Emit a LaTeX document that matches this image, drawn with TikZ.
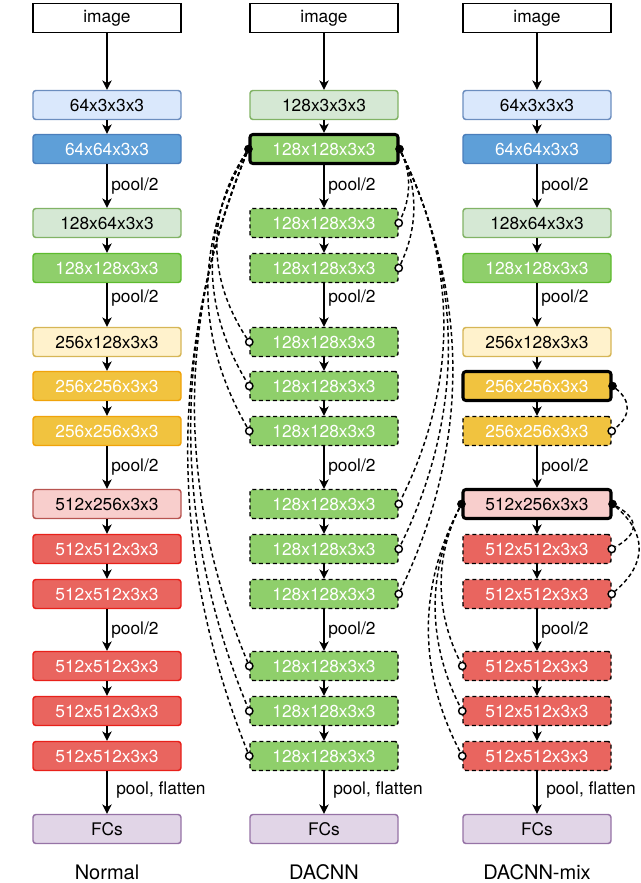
\documentclass[tikz,border=0pt]{standalone}
\usepackage{fontspec}
\setmainfont{TeX Gyre Heros}
\usetikzlibrary{arrows.meta,calc}
\definecolor{lbF}{HTML}{DAE8FC}\definecolor{lbS}{HTML}{6C8EBF}
\definecolor{dbF}{HTML}{5E9FD8}\definecolor{dbS}{HTML}{4A7EBB}
\definecolor{lgF}{HTML}{D5E8D4}\definecolor{lgS}{HTML}{82B366}
\definecolor{gnF}{HTML}{8FCF6B}\definecolor{gnS}{HTML}{5DBB2E}
\definecolor{lyF}{HTML}{FFF2CC}\definecolor{lyS}{HTML}{D6B656}
\definecolor{ynF}{HTML}{F1C33F}\definecolor{ynS}{HTML}{F0A30A}
\definecolor{lrF}{HTML}{F8CECC}\definecolor{lrS}{HTML}{B85450}
\definecolor{rnF}{HTML}{E9655F}\definecolor{rnS}{HTML}{E8201A}
\definecolor{puF}{HTML}{E1D5E7}\definecolor{puS}{HTML}{9673A6}
\newcommand\skipcurve[4]{\draw[skipln] (#1) .. controls ($(#1)+(#3,#4)$) and ($(#2)+(#3,-#4)$) .. (#2);}
\begin{document}
\begin{tikzpicture}[x=0.75pt,y=-0.75pt,
  blk/.style={rectangle, rounded corners=2.2pt, minimum width=111pt, minimum height=21.75pt, inner sep=0pt, line width=1.1pt, font=\fontsize{13}{15}\selectfont},
  img/.style={blk, sharp corners, draw=black, fill=white},
  lb/.style={blk, fill=lbF, draw=lbS},
  db/.style={blk, fill=dbF, draw=dbS, text=white},
  lg/.style={blk, fill=lgF, draw=lgS},
  gn/.style={blk, fill=gnF, draw=gnS, text=white},
  ly/.style={blk, fill=lyF, draw=lyS},
  yn/.style={blk, fill=ynF, draw=ynS, text=white},
  lr/.style={blk, fill=lrF, draw=lrS},
  rn/.style={blk, fill=rnF, draw=rnS, text=white},
  pu/.style={blk, fill=puF, draw=puS},
  boldbox/.style={draw=black, line width=2.3pt},
  dshbox/.style={draw=black, dash pattern=on 3pt off 2.2pt},
  arr/.style={line width=1.1pt, -{Stealth[length=7pt,width=7pt,inset=2pt]}},
  lbl/.style={anchor=west, inner sep=0pt, font=\fontsize{13}{15}\selectfont},
  ttl/.style={inner sep=0pt, font=\fontsize{15}{17}\selectfont},
  fdot/.style={circle, fill=black, draw=black, inner sep=0pt, minimum size=6pt},
  odot/.style={circle, fill=white, draw=black, line width=1.1pt, inner sep=0pt, minimum size=5.5pt},
  skipln/.style={line width=1.1pt, dash pattern=on 3pt off 2.2pt}
]
\useasboundingbox (0,0) rectangle (640,883);
% Column A: Normal
\node[img] (a0) at (107,18) {image};
\node[lb] (a1) at (107,105) {64x3x3x3};
\node[db] (a2) at (107,149) {64x64x3x3};
\node[lg] (a3) at (107,223) {128x64x3x3};
\node[gn] (a4) at (107,268) {128x128x3x3};
\node[ly] (a5) at (107,342) {256x128x3x3};
\node[yn] (a6) at (107,386) {256x256x3x3};
\node[yn] (a7) at (107,431) {256x256x3x3};
\node[lr] (a8) at (107,504) {512x256x3x3};
\node[rn] (a9) at (107,549) {512x512x3x3};
\node[rn] (a10) at (107,594) {512x512x3x3};
\node[rn] (a11) at (107,666) {512x512x3x3};
\node[rn] (a12) at (107,711) {512x512x3x3};
\node[rn] (a13) at (107,756) {512x512x3x3};
\node[pu] (a14) at (107,829) {FCs};
% Column B: DACNN
\node[img] (b0) at (324,18) {image};
\node[lg] (b1) at (324,105) {128x3x3x3};
\node[gn,boldbox] (b2) at (324,149) {128x128x3x3};
\node[gn,dshbox] (b3) at (324,223) {128x128x3x3};
\node[gn,dshbox] (b4) at (324,268) {128x128x3x3};
\node[gn,dshbox] (b5) at (324,342) {128x128x3x3};
\node[gn,dshbox] (b6) at (324,386) {128x128x3x3};
\node[gn,dshbox] (b7) at (324,431) {128x128x3x3};
\node[gn,dshbox] (b8) at (324,504) {128x128x3x3};
\node[gn,dshbox] (b9) at (324,549) {128x128x3x3};
\node[gn,dshbox] (b10) at (324,594) {128x128x3x3};
\node[gn,dshbox] (b11) at (324,666) {128x128x3x3};
\node[gn,dshbox] (b12) at (324,711) {128x128x3x3};
\node[gn,dshbox] (b13) at (324,756) {128x128x3x3};
\node[pu] (b14) at (324,829) {FCs};
% Column C: DACNN-mix
\node[img] (c0) at (537,18) {image};
\node[lb] (c1) at (537,105) {64x3x3x3};
\node[db] (c2) at (537,149) {64x64x3x3};
\node[lg] (c3) at (537,223) {128x64x3x3};
\node[gn] (c4) at (537,268) {128x128x3x3};
\node[ly] (c5) at (537,342) {256x128x3x3};
\node[yn,boldbox] (c6) at (537,386) {256x256x3x3};
\node[yn,dshbox] (c7) at (537,431) {256x256x3x3};
\node[lr,boldbox] (c8) at (537,504) {512x256x3x3};
\node[rn,dshbox] (c9) at (537,549) {512x512x3x3};
\node[rn,dshbox] (c10) at (537,594) {512x512x3x3};
\node[rn,dshbox] (c11) at (537,666) {512x512x3x3};
\node[rn,dshbox] (c12) at (537,711) {512x512x3x3};
\node[rn,dshbox] (c13) at (537,756) {512x512x3x3};
\node[pu] (c14) at (537,829) {FCs};
% arrows and labels
\foreach \c/\x in {a/107,b/324,c/537}{
  \foreach \i/\j in {0/1,1/2,2/3,3/4,4/5,5/6,6/7,7/8,8/9,9/10,10/11,11/12,12/13,13/14}
    \draw[arr] (\c\i) -- (\c\j);
  \node[lbl] (\c p1) at (\x+4,186) {pool/2};
  \node[lbl] (\c p2) at (\x+4,298) {pool/2};
  \node[lbl] (\c p3) at (\x+4,467) {pool/2};
  \node[lbl] (\c p4) at (\x+4,630) {pool/2};
  \node[lbl] (\c p5) at (\x+9,790) {pool, flatten};
}
\node[ttl] (ta) at (107,872) {Normal};
\node[ttl] (tb) at (324,872) {DACNN};
\node[ttl] (tc) at (537,872) {DACNN-mix};
% DACNN skip connections
\node[fdot] (bdl) at (b2.west) {};
\node[fdot] (bdr) at (b2.east) {};
\foreach \i in {3,4,8,9,10} \node[odot] (bo\i) at (b\i.east) {};
\foreach \i in {5,6,7,11,12,13} \node[odot] (bo\i) at (b\i.west) {};
\skipcurve{bdr}{bo3}{12}{25}
\skipcurve{bdr}{bo4}{19}{40}
\skipcurve{bdr}{bo8}{59}{118}
\skipcurve{bdr}{bo9}{65}{133}
\skipcurve{bdr}{bo10}{71}{148}
\skipcurve{bdl}{bo5}{-42}{64}
\skipcurve{bdl}{bo6}{-48}{79}
\skipcurve{bdl}{bo7}{-54}{94}
\skipcurve{bdl}{bo11}{-72}{172}
\skipcurve{bdl}{bo12}{-77}{187}
\skipcurve{bdl}{bo13}{-81}{202}
% DACNN-mix skip connections
\node[fdot] (cdr6) at (c6.east) {};
\node[fdot] (cdl8) at (c8.west) {};
\node[fdot] (cdr8) at (c8.east) {};
\foreach \i in {7,9,10} \node[odot] (co\i) at (c\i.east) {};
\foreach \i in {11,12,13} \node[odot] (co\i) at (c\i.west) {};
\skipcurve{cdr6}{co7}{19}{15}
\skipcurve{cdr8}{co9}{27}{15}
\skipcurve{cdr8}{co10}{35}{30}
\skipcurve{cdl8}{co11}{-27}{54}
\skipcurve{cdl8}{co12}{-35}{69}
\skipcurve{cdl8}{co13}{-44}{84}
\end{tikzpicture}
\end{document}
